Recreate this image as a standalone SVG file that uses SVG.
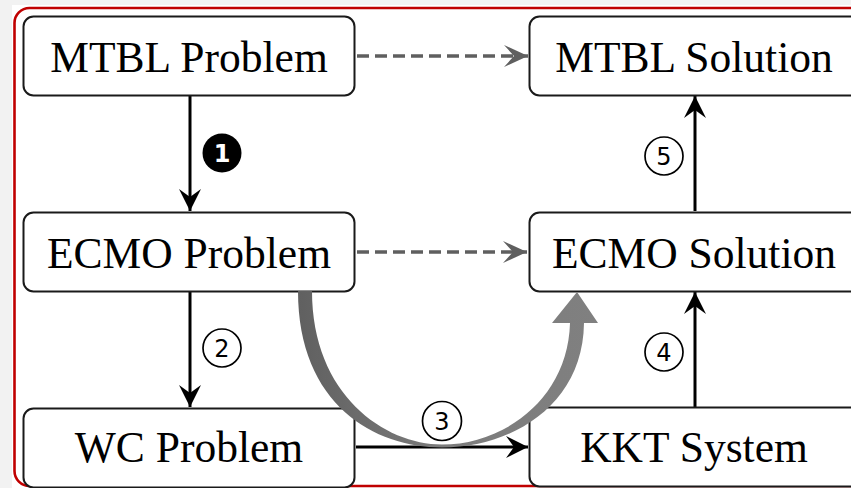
<svg xmlns="http://www.w3.org/2000/svg" width="851" height="488" viewBox="0 0 851 488">
  <defs>
    <style>
      .box { fill: #ffffff; stroke: #1a1a1a; stroke-width: 2; }
      .label { font-family: "Liberation Serif", "Times New Roman", serif; font-size: 43.5px; fill: #000; text-anchor: middle; }
      .solid { stroke: #000; stroke-width: 3; fill: none; }
      .dash { stroke: #5f5f5f; stroke-width: 3.5; fill: none; stroke-dasharray: 12 6; }
      .step { fill: #fff; stroke: #000; stroke-width: 1.7; }
      .num { font-family: "DejaVu Sans", "Liberation Sans", sans-serif; font-size: 24px; text-anchor: middle; fill: #000; }
    </style>
    <marker id="headBlack" viewBox="-24 -12 26 24" refX="0" refY="0" markerWidth="26" markerHeight="24" markerUnits="userSpaceOnUse" orient="auto">
      <path d="M0,0 L-22,-11 L-14,0 L-22,11 Z" fill="#000"/>
    </marker>
    <marker id="headGray" viewBox="-26 -12 28 24" refX="0" refY="0" markerWidth="28" markerHeight="24" markerUnits="userSpaceOnUse" orient="auto">
      <path d="M0,0 L-24,-11 L-14,0 L-24,11 Z" fill="#5f5f5f"/>
    </marker>
    <linearGradient id="bigArrowFill" x1="298" y1="0" x2="598" y2="0" gradientUnits="userSpaceOnUse">
      <stop offset="0" stop-color="#606060"/>
      <stop offset="0.5" stop-color="#7c7c7c"/>
      <stop offset="1" stop-color="#808080"/>
    </linearGradient>
  </defs>

  <!-- page background and framed panel -->
  <rect x="0" y="0" width="851" height="488" fill="#f2f2f2"/>
  <rect x="12" y="5" width="860" height="490" fill="#ffffff"/>
  <rect x="14.5" y="8" width="860" height="478" rx="15" fill="none" stroke="#c00000" stroke-width="2.6"/>

  <!-- connectors -->
  <g id="connectors">
    <line class="dash" x1="357" y1="56" x2="528" y2="56" marker-end="url(#headGray)"/>
    <line class="dash" x1="357" y1="252" x2="527" y2="252" marker-end="url(#headGray)"/>
    <line class="solid" x1="190" y1="96" x2="190" y2="211" marker-end="url(#headBlack)"/>
    <line class="solid" x1="190" y1="292" x2="190" y2="407" marker-end="url(#headBlack)"/>
    <line class="solid" x1="356" y1="447" x2="528" y2="447" marker-end="url(#headBlack)"/>
    <line class="solid" x1="695" y1="407" x2="695" y2="292" marker-end="url(#headBlack)"/>
    <line class="solid" x1="695" y1="211" x2="695" y2="96" marker-end="url(#headBlack)"/>
  </g>

  <!-- nodes -->
  <g id="mtbl-problem">
    <rect class="box" x="23.5" y="16.5" width="331" height="79" rx="10"/>
    <text class="label" x="189" y="72">MTBL Problem</text>
  </g>
  <g id="mtbl-solution">
    <rect class="box" x="529.5" y="16.5" width="331" height="79" rx="10"/>
    <text class="label" x="694" y="72">MTBL Solution</text>
  </g>
  <g id="ecmo-problem">
    <rect class="box" x="23.5" y="212.5" width="331" height="79" rx="10"/>
    <text class="label" x="189" y="268">ECMO Problem</text>
  </g>
  <g id="ecmo-solution">
    <rect class="box" x="529.5" y="212.5" width="331" height="79" rx="10"/>
    <text class="label" x="694" y="268">ECMO Solution</text>
  </g>
  <g id="wc-problem">
    <rect class="box" x="23.5" y="408.5" width="331" height="79" rx="10"/>
    <text class="label" x="189" y="462">WC Problem</text>
  </g>
  <g id="kkt-system">
    <rect class="box" x="529.5" y="407.5" width="331" height="79" rx="10"/>
    <text class="label" x="694" y="462">KKT System</text>
  </g>

  <!-- tapered shortcut arrow from ECMO Problem to ECMO Solution -->
  <g id="shortcut">
    <path fill="url(#bigArrowFill)" d="M298,291 C298,405 375,447.5 442,447.5 C512,447.5 583,405 584,323 L598,323 L577,292 L552,323 L570,323 C568,398 505,444.5 442,444.5 C385,444.5 312,395 312,291 Z"/>
  </g>

  <!-- step badges -->
  <g id="step-1">
    <circle cx="222" cy="153" r="19.5" fill="#000"/>
    <text class="num" x="222" y="162" style="fill:#fff;font-weight:bold">1</text>
  </g>
  <g id="step-2">
    <circle class="step" cx="222" cy="348" r="19"/>
    <text class="num" x="222" y="357">2</text>
  </g>
  <g id="step-3">
    <circle class="step" cx="442" cy="421" r="19.5"/>
    <text class="num" x="442" y="430">3</text>
  </g>
  <g id="step-4">
    <circle class="step" cx="664" cy="352" r="19"/>
    <text class="num" x="664" y="361">4</text>
  </g>
  <g id="step-5">
    <circle class="step" cx="664" cy="156" r="19"/>
    <text class="num" x="664" y="165">5</text>
  </g>
</svg>
